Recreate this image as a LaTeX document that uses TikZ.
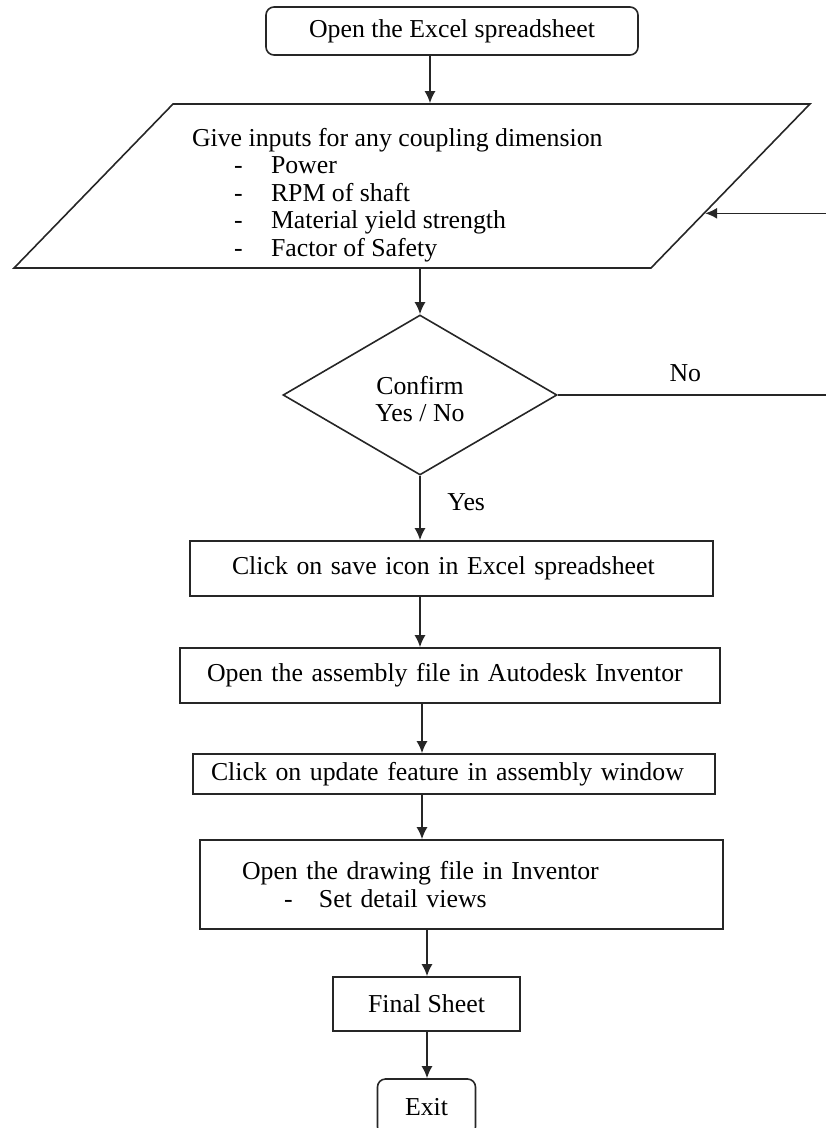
\documentclass[tikz,border=0pt]{standalone}
\usepackage{fontspec}
\setmainfont{Liberation Serif}
\usetikzlibrary{shapes.geometric, arrows.meta, positioning, calc}
\newcommand{\dashitem}[2][18.5pt]{\hspace*{21pt}\makebox[#1][l]{-}#2}

\begin{document}
\begin{tikzpicture}[x=0.5pt, y=-0.5pt,
    font=\fontsize{12.9pt}{13.75pt}\selectfont,
    stepbox/.style={draw=black!85, line width=0.8pt, align=left, inner ysep=0pt},
    endbox/.style={draw=black!85, line width=0.8pt, rounded corners=4pt, align=center},
    flow/.style={draw=black!85, line width=0.8pt, -{Latex[length=6pt,width=5.5pt]}}]
    \useasboundingbox (0,0) rectangle (825,1128);

    \node (start) at (452,  31) [endbox, minimum width=186pt, minimum height=24pt] {Open the Excel spreadsheet};
    \node (input) at (412, 186) [draw=black!85, line width=0.8pt, shape=trapezium, trapezium left angle=45.9, trapezium right angle=134.1, inner sep=0pt, minimum width=1pt, minimum height=1pt]
        {\parbox[c][82pt][c]{239pt}{\vspace*{9pt}%
         \hspace*{9.5pt}Give inputs for any coupling dimension\\
         \hspace*{9.5pt}\dashitem{Power}\\
         \hspace*{9.5pt}\dashitem{RPM of shaft}\\
         \hspace*{9.5pt}\dashitem{Material yield strength}\\
         \hspace*{9.5pt}\dashitem{Factor of Safety}}};
    \node (cond)  at (420, 395) [draw=black!85, line width=0.8pt, shape=diamond, minimum width=137pt, minimum height=80pt, inner sep=0pt, align=center] {\rule{0pt}{13pt}Confirm\\Yes / No};
    \node (save)  at (451.5, 568.5) [stepbox, text width=219.5pt, inner xsep=21pt, minimum height=27.5pt] {Click on save icon in Excel spreadsheet};
    \node (asm)   at (450, 675.5)   [stepbox, text width=243pt, inner xsep=13.5pt, minimum height=27.5pt] {Open the assembly file in Autodesk Inventor};
    \node (upd)   at (454, 774)     [stepbox, text width=243pt, inner xsep=9pt, minimum height=20pt] {Click on update feature in assembly window};
    \node (drw)   at (461.5, 884.5) [stepbox, text width=219.5pt, inner xsep=21pt, minimum height=44.5pt] {Open the drawing file in Inventor\\ \dashitem[17.5pt]{Set detail views}};
    \node (final) at (426.5, 1004)  [stepbox, align=center, minimum width=93.5pt, minimum height=27pt] {Final Sheet};
    \node (exit)  at (426.5, 1107)  [endbox, minimum width=49pt, minimum height=28pt] {Exit};

    \coordinate (edge) at (829, 395);
    \coordinate (back) at ($(input.top right corner)!0.665!(input.bottom right corner)$);

    % start -> input
    \draw[flow] ([xshift=-11pt]start.south) -- ([xshift=-11pt]start.south |- input.north);
    % input -> cond
    \draw[flow] (input.south -| cond) -- (cond.north);
    % cond -> save
    \draw[flow] (cond.south) -- node[right=10pt, pos=0.41] {Yes} (cond.south |- save.north);
    % cond -> input
    \draw[flow] (cond.east) -- node[above=3pt, pos=0.47] {No} (edge) -- (edge |- back) -- (back);
    % save -> asm
    \draw[flow] (save.south -| cond) -- (asm.north -| cond);
    % asm -> upd
    \draw[flow] ([xshift=1pt]asm.south -| cond) -- ([xshift=1pt]upd.north -| cond);
    % upd -> drw
    \draw[flow] ([xshift=1pt]upd.south -| cond) -- ([xshift=1pt]drw.north -| cond);
    % drw -> final
    \draw[flow] ([xshift=0.25pt]drw.south -| final) -- ([xshift=0.25pt]final.north);
    % final -> exit
    \draw[flow] ([xshift=0.25pt]final.south) -- ([xshift=0.25pt]exit.north);
\end{tikzpicture}
\end{document}
